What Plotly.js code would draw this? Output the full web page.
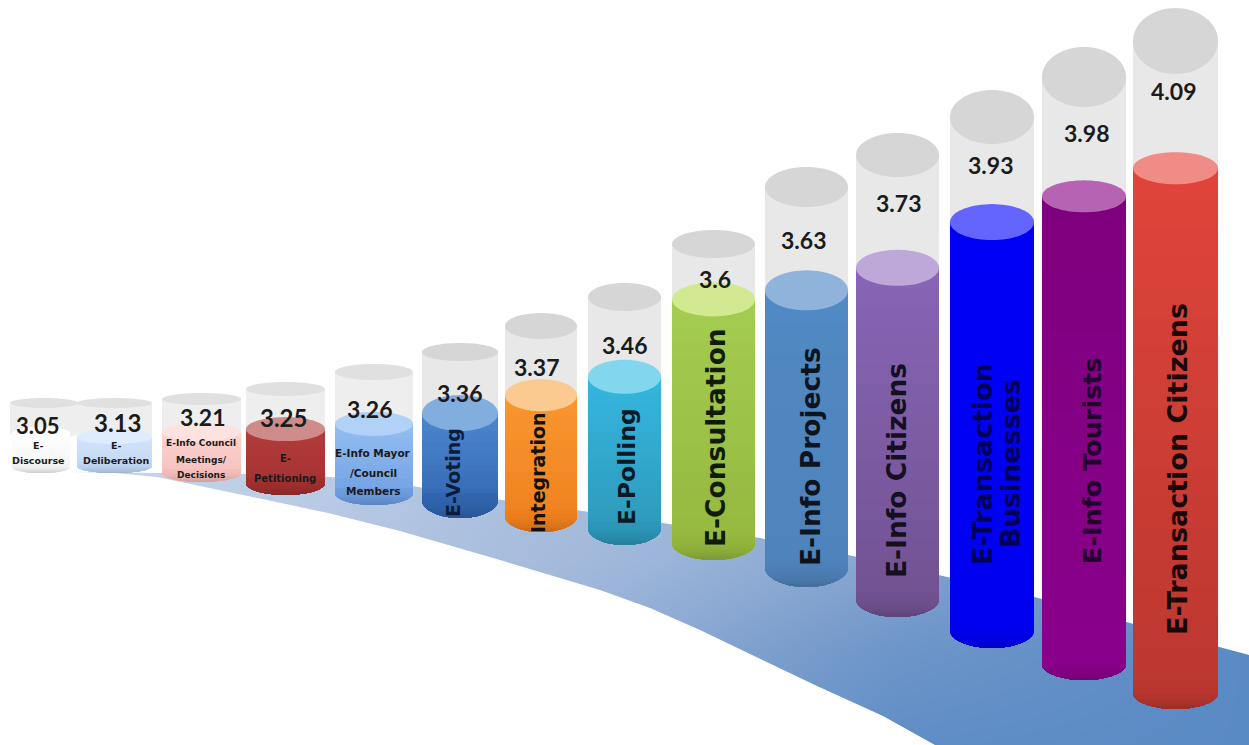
<!DOCTYPE html>
<html>
<head>
<meta charset="utf-8">
<script src="https://cdn.plot.ly/plotly-3.0.1.min.js"></script>
<style>html,body{margin:0;padding:0;background:#fff;overflow:hidden}</style>
</head>
<body>
<div id="chart" style="width:1249px;height:745px"></div>
<script>
// Service scores, smallest to largest
const scores = [3.05, 3.13, 3.21, 3.25, 3.26, 3.36, 3.37, 3.46, 3.6, 3.63, 3.73, 3.93, 3.98, 4.09];

// Service names, one entry per drawn text line
const serviceLines = [
  ["E-", "Discourse"],
  ["E-", "Deliberation"],
  ["E-Info Council", "Meetings/", "Decisions"],
  ["E-", "Petitioning"],
  ["E-Info Mayor", "/Council", "Members"],
  ["E-Voting"],
  ["Integration"],
  ["E-Polling"],
  ["E-Consultation"],
  ["E-Info Projects"],
  ["E-Info Citizens"],
  ["E-Transaction", "Businesses"],
  ["E-Info Tourists"],
  ["E-Transaction Citizens"]
];

// Perspective layout of the columns
const SCORE_FLOOR = 2.9;
const floorLine  = [467, 466, 473, 483, 493, 500, 516, 528, 543, 567, 599, 630, 664, 693];
const depthScale = [227, 126, 132, 154, 192, 189, 257, 270, 348, 379, 399, 396, 433, 441];
const columnLeft  = [12, 77, 162, 246, 335, 422, 505, 588, 672, 765, 856, 950, 1042, 1133];
const columnRight = [70, 152, 241, 325, 413, 498, 577, 661, 755, 848, 939, 1034, 1126, 1218];
const fluidRy     = [6, 7, 9, 12, 12, 18, 16, 17, 17, 20, 18, 18, 16, 16];
const glassLeft   = [10, 77, 162, 246, 335, 422, 505, 588, 672, 765, 856, 950, 1042, 1133];
const glassRight  = [78, 152, 241, 325, 413, 498, 577, 661, 755, 848, 939, 1034, 1126, 1218];
const glassCenter = [403, 403, 399, 389, 372, 352, 326, 297, 244, 187, 155, 117, 77, 41];
const glassRy     = [5, 5, 6, 7, 8, 9, 13, 14, 14, 20, 22, 27, 30, 33];

// Column colours
const bodyTop = ["#ffffff","#d3e4fb","#fbd3d0","#b23c3c","#94bdf1","#4c86ce","#f8962f","#36b6dd","#a4cc50","#5089c4","#8764b5","#0000f6","#7f007f","#df443a"];
const bodyEnd = ["#f2f2f2","#bdd4f2","#f4bdb9","#a22f2f","#6c9ce0","#2f64ae","#ee7f1c","#2c96b8","#94b63e","#4f82ba","#70518f","#0000f0","#8a008c","#b8362f"];
const capFill = ["#ffffff","#dfecff","#fde2e0","#cd8c8a","#b2d1f6","#82addf","#fbca90","#82d7ef","#d1e990","#8fb3da","#bea7d9","#6464ff","#b563b2","#f08b86"];
const nameInk = ["#1a1a1a","#1a1a1a","#1a1a1a","#1a1a1a","#1a1a1a","#0c1c3c","#141008","#0a1a24","#101c08","#0c1420","#141020","#000058","#24002c","#1a0808"];

// Floor ribbon outline and shading
const ribbonUpper = [[0,472],[72,472],[157,473],[243,474],[330,477],[375,481],[418,487],[460,494],[502,500],[583,511],[663,523],[760,538],[853,556],[943,576],[1038,598],[1130,623],[1249,655]];
const ribbonLower = [[0,472],[72,472],[115,473],[157,477],[200,486],[243,495],[328,513],[400,531],[500,560],[600,590],[650,608],[700,630],[750,654],[817,686],[883,716],[935,745],[1249,745]];
const shadeX = [0, 300, 600, 900, 1249];
const shadeY = [465, 560, 650, 745];
const shadeZ = [
  [0, 0.14, 0.34, 0.48, 0.75],
  [0, 0.20, 0.38, 0.62, 0.85],
  [0, 0.25, 0.50, 0.82, 1.00],
  [0, 0.30, 0.65, 0.95, 1.00]
];

// Text placement: [x, y, size] for each score
const scoreText = [[38,425,22],[117,422,24],[202,417,23],[283,417,24],[369,409,23],[459,393,23],[536,367,23],[624,345,23],[715,279,23],[803,240,23],[898,203,23],[990,165,23],[1086,133,23],[1173,91,23]];
// Names: horizontal lines share x and list a y each, rotated lines share y and list an x each
const nameText = [
  {x:38,  ys:[445,460], size:9.5},
  {x:116, ys:[445,460], size:9.5},
  {x:201, ys:[443,460,475], size:9},
  {x:285, ys:[458,478], size:10},
  {x:373, ys:[453,473,491], size:10.5},
  {xs:[453],  y:473, size:19},
  {xs:[538],  y:473, size:19},
  {xs:[627],  y:467, size:23.5},
  {xs:[715],  y:438, size:26.5},
  {xs:[810],  y:457, size:26.5},
  {xs:[896],  y:471, size:26.5},
  {xs:[982,1010], y:464, size:27},
  {xs:[1092], y:461, size:25.5},
  {xs:[1177], y:469, size:27}
];

const SCORE_FONT = "Lato, 'Open Sans', sans-serif";
const NAME_FONT = "'DejaVu Sans', 'Open Sans', sans-serif";
const traces = [];
const hex = c => [1,3,5].map(i => parseInt(c.substr(i,2),16));
const mix = (a,b,t) => hex(a).map((v,i) => v + (hex(b)[i] - v) * t);
const css = (rgb, k) => "rgb(" + rgb.map(v => Math.round(v * k)).join(",") + ")";

function poly(pts, color) {
  traces.push({type:"scatter", mode:"none", fill:"toself", fillcolor:color,
    x:pts.map(p=>p[0]), y:pts.map(p=>p[1]), hoverinfo:"skip", showlegend:false});
}
function ellipse(cx, cy, rx, ry) {
  const pts = [];
  for (let a = 0; a <= 72; a++) {
    const t = a / 72 * 2 * Math.PI;
    pts.push([cx + rx * Math.cos(t), cy + ry * Math.sin(t)]);
  }
  return pts;
}
// Cylinder side from level yTop down to its rounded base
function side(l, r, yTop, yBase, ry) {
  const cx = (l + r) / 2, rx = (r - l) / 2, arc = [];
  for (let a = 0; a <= 48; a++) {
    const t = a / 48 * Math.PI;
    const p = [cx + rx * Math.cos(t), yBase + ry * Math.sin(t)];
    if (p[1] >= yTop) arc.push(p);
  }
  if (yTop <= yBase) return [[r, yTop], ...arc, [l, yTop]];
  return arc;
}

// Ribbon: smooth shading, trimmed to its curved outline
traces.push({type:"heatmap", x:shadeX, y:shadeY, z:shadeZ, zsmooth:"best", showscale:false,
  zmin:0, zmax:1, hoverinfo:"skip",
  colorscale:[[0,"#cbd9ec"],[0.35,"#a5bbdc"],[0.7,"#7a9dcc"],[1,"#5a8ac4"]]});
poly([[0,0],...ribbonUpper,[1249,0]], "#ffffff");
poly([[0,745],...ribbonLower], "#ffffff");

scores.forEach((score, i) => {
  const l = columnLeft[i], r = columnRight[i];
  const base = floorLine[i], ry = fluidRy[i];
  const top = base - (score - SCORE_FLOOR) * depthScale[i];

  // Glass sleeve above the fill
  const gl = glassLeft[i], gr = glassRight[i], gc = glassCenter[i], gry = glassRy[i];
  poly(side(gl, gr, gc, top, ry), i < 5 ? "#eeeeee" : "#e8e8e8");
  poly(ellipse((gl + gr) / 2, gc, (gr - gl) / 2, gry), i < 5 ? "#e0e0e0" : "#d6d6d6");

  // Fill body, banded from top to base
  const bands = 18, span = base + ry - top;
  for (let k = 0; k < bands; k++) {
    const t = k / bands;
    poly(side(l, r, top + t * span, base, ry), css(mix(bodyTop[i], bodyEnd[i], t), 1));
  }
  // Gentle darkening around the rounded foot
  const footBands = 10, footStart = base - ry * 0.4, footSpan = base + ry - footStart;
  for (let k = 1; k <= footBands; k++) {
    const t = k / footBands;
    const y = footStart + (k - 1) / footBands * footSpan;
    poly(side(l, r, y, base, ry), css(mix(bodyTop[i], bodyEnd[i], 0.97), 1 - 0.15 * t * t));
  }
  poly(ellipse((l + r) / 2, top, (r - l) / 2, ry), capFill[i]);
});

// Score and service name text
const annotations = [];
const note = (text, x, y, size, angle, color, family) => annotations.push({
  text, x, y, xref:"x", yref:"y", showarrow:false, textangle:angle,
  xanchor:"center", yanchor:"middle",
  font:{family, size, color, weight:700}
});
scores.forEach((score, i) => {
  const [x, y, size] = scoreText[i];
  note(String(score), x, y, size, 0, "#1b1b1b", SCORE_FONT);
  const n = nameText[i];
  serviceLines[i].forEach((line, k) => {
    if (n.xs) note(line, n.xs[k], n.y, n.size, -90, nameInk[i], NAME_FONT);
    else note(line, n.x, n.ys[k], n.size, 0, nameInk[i], NAME_FONT);
  });
});

Plotly.newPlot("chart", traces, {
  width:1249, height:745,
  margin:{l:0, r:0, t:0, b:0, pad:0},
  paper_bgcolor:"#ffffff", plot_bgcolor:"#ffffff",
  xaxis:{range:[0,1249], visible:false, fixedrange:true},
  yaxis:{range:[745,0], visible:false, fixedrange:true},
  showlegend:false, annotations
}, {displayModeBar:false, staticPlot:true});
</script>
</body>
</html>
